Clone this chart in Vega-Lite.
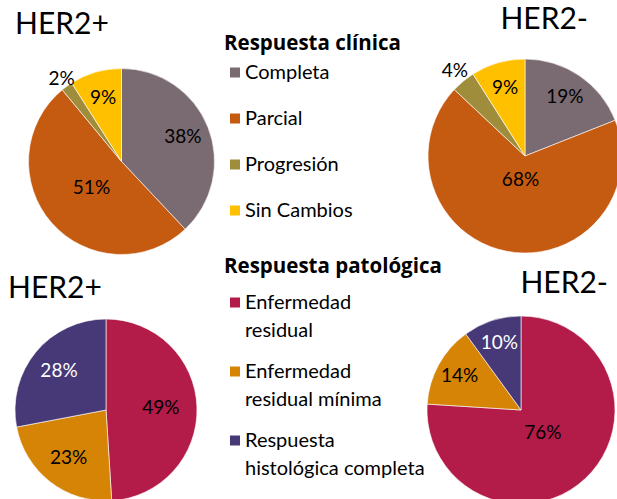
{
  "$schema": "https://vega.github.io/schema/vega-lite/v6.json",
  "padding": {"top": 5, "left": 0, "right": 0, "bottom": 0},
  "background": "white",
  "config": {"view": {"stroke": null}, "font": "Lato", "text": {"font": "Lato"}, "style": {"guide-label": {"lineHeight": 28}}},
  "datasets": {
    "clin_pos": [
      {"respuesta": "Completa", "orden": 1, "valor": 0.38},
      {"respuesta": "Parcial", "orden": 2, "valor": 0.51},
      {"respuesta": "Progresión", "orden": 3, "valor": 0.02},
      {"respuesta": "Sin Cambios", "orden": 4, "valor": 0.09}
    ],
    "clin_neg": [
      {"respuesta": "Completa", "orden": 1, "valor": 0.19},
      {"respuesta": "Parcial", "orden": 2, "valor": 0.68},
      {"respuesta": "Progresión", "orden": 3, "valor": 0.04},
      {"respuesta": "Sin Cambios", "orden": 4, "valor": 0.09}
    ],
    "pat_pos": [
      {"respuesta": "Enfermedad residual", "orden": 1, "valor": 0.49},
      {"respuesta": "Enfermedad residual mínima", "orden": 2, "valor": 0.23},
      {"respuesta": "Respuesta histológica completa", "orden": 3, "valor": 0.28}
    ],
    "pat_neg": [
      {"respuesta": "Enfermedad residual", "orden": 1, "valor": 0.76},
      {"respuesta": "Enfermedad residual mínima", "orden": 2, "valor": 0.14},
      {"respuesta": "Respuesta histológica completa", "orden": 3, "valor": 0.10}
    ]
  },
  "columns": 2,
  "bounds": "flush",
  "align": "each",
  "spacing": {"row": 58, "column": 219},
  "resolve": {"scale": {"color": "independent", "theta": "independent"}, "legend": {"color": "independent"}},
  "concat": [
    {
      "data": {"name": "clin_pos"},
      "width": 243, "height": 201,
      "title": {"text": "HER2+", "anchor": "start", "frame": "group", "dx": 15, "offset": -30, "baseline": "alphabetic", "fontSize": 30, "fontWeight": "normal", "font": "Lato", "color": "black"},
      "encoding": {
        "theta": {"field": "valor", "type": "quantitative", "stack": true},
        "order": {"field": "orden", "type": "quantitative"}
      },
      "layer": [
        {"mark": {"type": "arc", "outerRadius": 93, "stroke": "white", "strokeWidth": 0.6},
         "encoding": {"color": {"field": "respuesta", "type": "nominal",
           "scale": {"domain": ["Completa", "Parcial", "Progresión", "Sin Cambios"], "range": ["#7a6a71", "#c55a11", "#9f8d3b", "#ffc000"]},
           "legend": {"orient": "none", "legendX": 224, "legendY": -27, "padding": 0,
             "title": "Respuesta clínica", "titleFont": "Open Sans", "titleFontSize": 20.5, "titleFontWeight": "bold", "titleColor": "black", "titlePadding": 8, "titleLimit": 400,
             "labelFont": "Lato", "labelFontSize": 20, "labelColor": "black", "labelOffset": 0, "labelLimit": 300,
             "symbolType": "square", "symbolSize": 100, "symbolStrokeWidth": 0, "symbolOffset": 1, "rowPadding": 26}}}},
        {"mark": {"type": "text", "radius": 40, "font": "Lato"},
         "encoding": {"color": {"value": "black"},
           "size": {"condition": {"test": "datum.valor >= 0.45", "value": 19}, "value": 0},
           "text": {"condition": {"test": "datum.valor >= 0.45", "field": "valor", "type": "quantitative", "format": ".0%"}, "value": ""}}},
        {"mark": {"type": "text", "radius": 66, "font": "Lato"},
         "encoding": {"color": {"value": "black"},
           "size": {"condition": {"test": "datum.valor >= 0.05 && datum.valor < 0.45", "value": 19}, "value": 0},
           "text": {"condition": {"test": "datum.valor >= 0.05 && datum.valor < 0.45", "field": "valor", "type": "quantitative", "format": ".0%"}, "value": ""}}},
        {"mark": {"type": "text", "radius": 102, "font": "Lato"},
         "encoding": {"color": {"value": "black"},
           "size": {"condition": {"test": "datum.valor < 0.05", "value": 19}, "value": 0},
           "text": {"condition": {"test": "datum.valor < 0.05", "field": "valor", "type": "quantitative", "format": ".0%"}, "value": ""}}}
      ]
    },
    {
      "data": {"name": "clin_neg"},
      "width": 126, "height": 190,
      "title": {"text": "HER2-", "anchor": "end", "frame": "group", "offset": -9, "baseline": "alphabetic", "fontSize": 30, "fontWeight": "normal", "font": "Lato", "color": "black"},
      "encoding": {
        "theta": {"field": "valor", "type": "quantitative", "stack": true},
        "order": {"field": "orden", "type": "quantitative"}
      },
      "layer": [
        {"mark": {"type": "arc", "outerRadius": 97, "stroke": "white", "strokeWidth": 0.6},
         "encoding": {"color": {"field": "respuesta", "type": "nominal",
           "scale": {"domain": ["Completa", "Parcial", "Progresión", "Sin Cambios"], "range": ["#7a6a71", "#c55a11", "#9f8d3b", "#ffc000"]},
           "legend": null}}},
        {"mark": {"type": "text", "radius": 24, "font": "Lato"},
         "encoding": {"color": {"value": "black"},
           "size": {"condition": {"test": "datum.valor >= 0.45", "value": 19}, "value": 0},
           "text": {"condition": {"test": "datum.valor >= 0.45", "field": "valor", "type": "quantitative", "format": ".0%"}, "value": ""}}},
        {"mark": {"type": "text", "radius": 71, "font": "Lato"},
         "encoding": {"color": {"value": "black"},
           "size": {"condition": {"test": "datum.valor >= 0.05 && datum.valor < 0.45", "value": 19}, "value": 0},
           "text": {"condition": {"test": "datum.valor >= 0.05 && datum.valor < 0.45", "field": "valor", "type": "quantitative", "format": ".0%"}, "value": ""}}},
        {"mark": {"type": "text", "radius": 110, "font": "Lato"},
         "encoding": {"color": {"value": "black"},
           "size": {"condition": {"test": "datum.valor < 0.05", "value": 19}, "value": 0},
           "text": {"condition": {"test": "datum.valor < 0.05", "field": "valor", "type": "quantitative", "format": ".0%"}, "value": ""}}}
      ]
    },
    {
      "data": {"name": "pat_pos"},
      "width": 212, "height": 180,
      "title": {"text": "HER2+", "anchor": "start", "frame": "group", "dx": 8, "offset": -71, "baseline": "alphabetic", "fontSize": 30, "fontWeight": "normal", "font": "Lato", "color": "black"},
      "encoding": {
        "theta": {"field": "valor", "type": "quantitative", "stack": true},
        "order": {"field": "orden", "type": "quantitative"}
      },
      "layer": [
        {"mark": {"type": "arc", "outerRadius": 91, "stroke": "white", "strokeWidth": 0.6},
         "encoding": {"color": {"field": "respuesta", "type": "nominal",
           "scale": {"domain": ["Enfermedad residual", "Enfermedad residual mínima", "Respuesta histológica completa"], "range": ["#b31b49", "#d68406", "#473977"]},
           "legend": {"orient": "none", "legendX": 224, "legendY": -63, "padding": 0,
             "title": "Respuesta patológica", "titleFont": "Open Sans", "titleFontSize": 20.5, "titleFontWeight": "bold", "titleColor": "black", "titlePadding": 15, "titleLimit": 400,
             "labelFont": "Lato", "labelFontSize": 20, "labelColor": "black", "labelOffset": 0, "labelLimit": 300,
             "labelExpr": "[slice(datum.label, 0, indexof(datum.label, ' ')), slice(datum.label, indexof(datum.label, ' ') + 1)]",
             "symbolType": "square", "symbolSize": 100, "symbolStrokeWidth": 0, "symbolOffset": 1, "rowPadding": 21}}}},
        {"mark": {"type": "text", "radius": 55, "font": "Lato"},
         "encoding": {"color": {"value": "black"},
           "size": {"condition": {"test": "datum.valor >= 0.45", "value": 19}, "value": 0},
           "text": {"condition": {"test": "datum.valor >= 0.45", "field": "valor", "type": "quantitative", "format": ".0%"}, "value": ""}}},
        {"mark": {"type": "text", "radius": 61, "font": "Lato"},
         "encoding": {"color": {"condition": {"test": "datum.respuesta == 'Respuesta histológica completa'", "value": "white"}, "value": "black"},
           "size": {"condition": {"test": "datum.valor < 0.45", "value": 19}, "value": 0},
           "text": {"condition": {"test": "datum.valor < 0.45", "field": "valor", "type": "quantitative", "format": ".0%"}, "value": ""}}}
      ]
    },
    {
      "data": {"name": "pat_neg"},
      "width": 118, "height": 180,
      "title": {"text": "HER2-", "anchor": "end", "frame": "group", "dx": 28, "offset": -8, "baseline": "alphabetic", "fontSize": 30, "fontWeight": "normal", "font": "Lato", "color": "black"},
      "encoding": {
        "theta": {"field": "valor", "type": "quantitative", "stack": true},
        "order": {"field": "orden", "type": "quantitative"}
      },
      "layer": [
        {"mark": {"type": "arc", "outerRadius": 94, "stroke": "white", "strokeWidth": 0.6},
         "encoding": {"color": {"field": "respuesta", "type": "nominal",
           "scale": {"domain": ["Enfermedad residual", "Enfermedad residual mínima", "Respuesta histológica completa"], "range": ["#b31b49", "#d68406", "#473977"]},
           "legend": null}}},
        {"mark": {"type": "text", "radius": 32, "font": "Lato"},
         "encoding": {"color": {"value": "black"},
           "size": {"condition": {"test": "datum.valor >= 0.45", "value": 19}, "value": 0},
           "text": {"condition": {"test": "datum.valor >= 0.45", "field": "valor", "type": "quantitative", "format": ".0%"}, "value": ""}}},
        {"mark": {"type": "text", "radius": 70, "font": "Lato"},
         "encoding": {"color": {"condition": {"test": "datum.respuesta == 'Respuesta histológica completa'", "value": "white"}, "value": "black"},
           "size": {"condition": {"test": "datum.valor < 0.45", "value": 19}, "value": 0},
           "text": {"condition": {"test": "datum.valor < 0.45", "field": "valor", "type": "quantitative", "format": ".0%"}, "value": ""}}}
      ]
    }
  ]
}
